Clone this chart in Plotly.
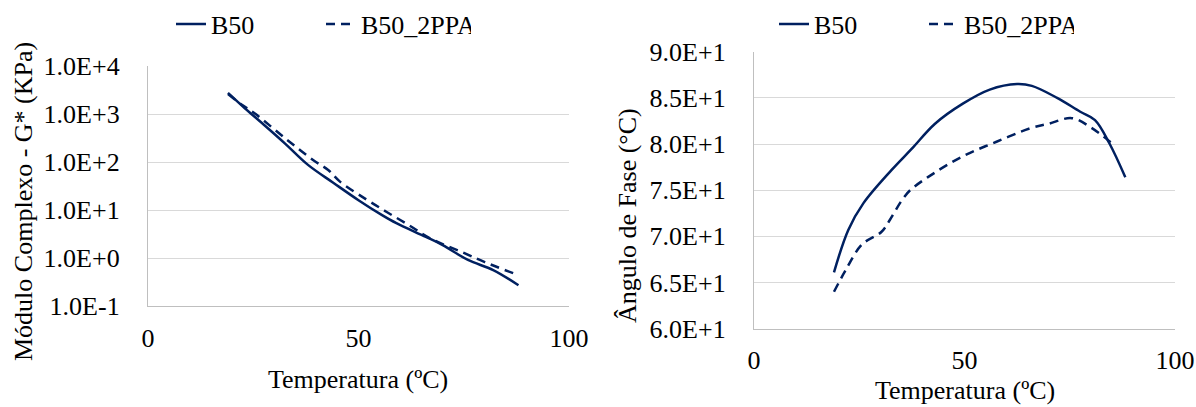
import plotly.graph_objects as go

# ---------------- data ----------------
# Left chart: complex modulus G* (kPa) vs temperature
temp_g_b50 = [19, 23, 28, 32.5, 38, 44, 50, 55.5, 59, 66, 70, 76, 82, 88]
g_b50 = [2760, 1320, 550, 245, 87, 37, 16, 7.9, 5.3, 2.75, 1.86, 0.91, 0.56, 0.27]

temp_g_ppa = [19, 22.3, 25.4, 32.5, 39.2, 42.8, 45.6, 51.9, 56.7, 62, 67, 74.9, 80, 86.8]
g_ppa = [2600, 1550, 1020, 316, 110, 68, 39, 16.5, 9.1, 4.8, 2.57, 1.29, 0.82, 0.48]

# Right chart: phase angle vs temperature
temp_d_b50 = [19, 22.4, 26, 32.7, 37.5, 43, 49.7, 56, 62.5, 66, 72, 77.5, 81, 84.5, 88.2]
d_b50 = [66.1, 70.7, 73.6, 77.2, 79.5, 82.2, 84.4, 85.9, 86.5, 86.3, 85.0, 83.5, 82.6, 80.0, 76.4]

temp_d_ppa = [19, 21.6, 25.6, 30.3, 32.3, 35.1, 37.1, 42.6, 49.7, 57.6, 65.6, 70, 75.5, 80, 85.5]
d_ppa = [64.0, 66.2, 69.1, 70.5, 71.8, 73.9, 75.0, 76.8, 78.7, 80.25, 81.7, 82.2, 82.8, 81.8, 79.9]

series_names = ["B50", "B50_2PPA"]

x_ticks = [0, 50, 100]
g_tickvals = [0.1, 1, 10, 100, 1000, 10000]
g_ticktext = ["1.0E-1", "1.0E+0", "1.0E+1", "1.0E+2", "1.0E+3", "1.0E+4"]
d_tickvals = [60, 65, 70, 75, 80, 85, 90]
d_ticktext = ["6.0E+1", "6.5E+1", "7.0E+1", "7.5E+1", "8.0E+1", "8.5E+1", "9.0E+1"]

x_title = "Temperatura (ºC)"
g_title = "Módulo Complexo - G* (KPa)"
d_title = "Ângulo de Fase (°C)"

# ---------------- style ----------------
W, H = 1196, 407
NAVY = "#002060"
GRID = "#D9D9D9"
AXIS = "#BFBFBF"
FONT = "Liberation Serif"
FS = 26
LW = 2.5
DASH = "9px,6px"

fig = go.Figure()

fig.add_trace(go.Scatter(x=temp_g_b50, y=g_b50, name=series_names[0], mode="lines",
                         line=dict(color=NAVY, width=LW, shape="spline"),
                         xaxis="x", yaxis="y", legend="legend"))
fig.add_trace(go.Scatter(x=temp_g_ppa, y=g_ppa, name=series_names[1], mode="lines",
                         line=dict(color=NAVY, width=LW, shape="spline", dash=DASH),
                         xaxis="x", yaxis="y", legend="legend"))
fig.add_trace(go.Scatter(x=temp_d_b50, y=d_b50, name=series_names[0], mode="lines",
                         line=dict(color=NAVY, width=LW, shape="spline"),
                         xaxis="x2", yaxis="y2", legend="legend2"))
fig.add_trace(go.Scatter(x=temp_d_ppa, y=d_ppa, name=series_names[1], mode="lines",
                         line=dict(color=NAVY, width=LW, shape="spline", dash=DASH),
                         xaxis="x2", yaxis="y2", legend="legend2"))


def px_x(p):
    return p / W


def px_y(p):
    return 1 - p / H


tickfont = dict(family=FONT, size=FS, color="black")

xcommon = dict(range=[0, 100], tickvals=x_ticks, showgrid=False, zeroline=False,
               showline=True, linecolor=AXIS, linewidth=1.3, ticks="",
               tickfont=tickfont, fixedrange=True)
ycommon = dict(showgrid=True, gridcolor=GRID, gridwidth=1.3, zeroline=False,
               showline=True, linecolor=AXIS, linewidth=1.3, ticks="",
               tickfont=tickfont, fixedrange=True)

legend_common = dict(orientation="h", xanchor="left", yanchor="middle",
                     xref="container", yref="container",
                     bgcolor="rgba(0,0,0,0)", font=dict(family=FONT, size=FS, color="black"),
                     entrywidth=105, entrywidthmode="pixels",
                     itemclick=False, itemdoubleclick=False)

fig.update_layout(
    width=W, height=H,
    margin=dict(l=0, r=0, t=0, b=0, pad=0, autoexpand=False),
    paper_bgcolor="white", plot_bgcolor="white",
    font=dict(family=FONT, size=FS, color="black"),
    xaxis=dict(domain=[px_x(148), px_x(569)], anchor="y", ticklabelstandoff=9, **xcommon),
    yaxis=dict(domain=[px_y(306), px_y(66)], anchor="x", type="log", range=[-1, 4],
               tickvals=g_tickvals, ticktext=g_ticktext, ticklabelstandoff=22, **ycommon),
    xaxis2=dict(domain=[px_x(754), px_x(1175)], anchor="y2", ticklabelstandoff=8, **xcommon),
    yaxis2=dict(domain=[px_y(328.7), px_y(51.7)], anchor="x2", range=[60, 90],
                tickvals=d_tickvals, ticktext=d_ticktext, ticklabelstandoff=22, **ycommon),
    legend=dict(x=px_x(171), y=px_y(24), **legend_common),
    legend2=dict(x=px_x(774), y=px_y(24), **legend_common),
    showlegend=True,
)

annotations = [
    dict(text=x_title, x=px_x(358), y=px_y(379), xref="paper", yref="paper",
         showarrow=False, xanchor="center", yanchor="middle", font=dict(family=FONT, size=FS)),
    dict(text=x_title, x=px_x(965), y=px_y(390), xref="paper", yref="paper",
         showarrow=False, xanchor="center", yanchor="middle", font=dict(family=FONT, size=FS)),
    dict(text=g_title, x=px_x(23), y=px_y(202), xref="paper", yref="paper", textangle=-90,
         showarrow=False, xanchor="center", yanchor="middle", font=dict(family=FONT, size=FS)),
    dict(text=d_title, x=px_x(628), y=px_y(216), xref="paper", yref="paper", textangle=-90,
         showarrow=False, xanchor="center", yanchor="middle", font=dict(family=FONT, size=FS)),
]
fig.update_layout(annotations=annotations)

fig.write_html("out.html", config={"displayModeBar": False},
               post_script="document.body.style.margin='0';document.body.style.overflow='hidden';")
